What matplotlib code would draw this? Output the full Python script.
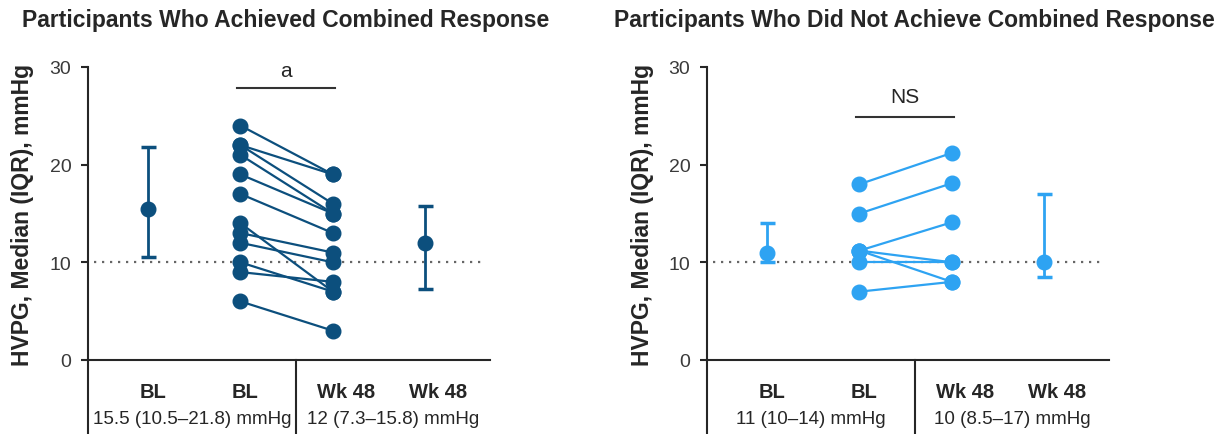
import numpy as np
import matplotlib.pyplot as plt
from matplotlib import transforms

plt.rcParams['font.family'] = ['Liberation Sans', 'DejaVu Sans']

# participants who achieved combined response (paired BL -> Wk 48)
resp_bl = [24, 22, 22, 21, 19, 17, 14, 13, 12, 10, 9, 6]
resp_wk48 = [19, 19, 16, 15, 15, 13, 7, 11, 10, 7, 8, 3]
resp_median = [15.5, 12]
resp_q1 = [10.5, 7.3]
resp_q3 = [21.8, 15.8]

# participants who did not achieve combined response
non_bl = [18, 15, 11.2, 11.2, 11.2, 10, 7]
non_wk48 = [21.2, 18.1, 14.1, 10, 8, 10, 8]
non_median = [11, 10]
non_q1 = [10, 8.5]
non_q3 = [14, 17]

categories = ['BL', 'BL', 'Wk 48', 'Wk 48']
titles = ['Participants Who Achieved Combined Response',
          'Participants Who Did Not Achieve Combined Response']
ylabel = 'HVPG, Median (IQR), mmHg'

W, H = 1228, 435
fig = plt.figure(figsize=(W / 100, H / 100), dpi=100)

xlim = (-0.65, 3.7)
divider = 1.6
ref_level = 10
text_col = '#262626'


def draw_panel(left_px, title, title_x, bl, wk, med, q1, q3, color, sig, sig_y, sig_text_y):
    ax = fig.add_axes([left_px / W, 74 / H, 402 / W, 293 / H])
    ax.set_xlim(*xlim)
    ax.set_ylim(0, 30)
    for s in ['top', 'right']:
        ax.spines[s].set_visible(False)
    for s in ['left', 'bottom']:
        ax.spines[s].set_linewidth(1.5)
        ax.spines[s].set_color(text_col)
    ax.set_xticks([])
    ax.set_yticks([0, 10, 20, 30])
    ax.tick_params(axis='y', length=5, width=1.5, color=text_col, pad=7,
                   labelsize=14, labelcolor='#3a3a3a')

    # dotted reference line
    ax.plot([-0.58, 3.65], [ref_level, ref_level], color='#666666', lw=1.6,
            ls=(0, (1, 2.6)), zorder=1)

    # paired lines
    for b, w in zip(bl, wk):
        ax.plot([1, 2], [b, w], color=color, lw=1.6, marker='o', ms=10.5,
                zorder=3, clip_on=False)

    # median (IQR) summaries
    for x, m, lo, hi in zip([0, 3], med, q1, q3):
        ax.errorbar(x, m, yerr=[[m - lo], [hi - m]], fmt='o', color=color,
                    ms=10.5, elinewidth=2, capsize=5.4, capthick=2.5, zorder=3)

    # significance bar
    ax.plot([0.96, 2.02], [sig_y, sig_y], color='#333333', lw=1.5, clip_on=False)
    ax.text(1.49, sig_text_y, sig, ha='center', va='center', fontsize=15,
            color=text_col)

    # lines and labels below axis
    trans = transforms.blended_transform_factory(ax.transData, ax.transAxes)
    for x in [xlim[0], divider]:
        ax.plot([x, x], [0, -0.26], color=text_col, lw=1.5, transform=trans,
                clip_on=False)
    label_x = [0.05, 1.05, 2.14, 3.14]
    for x, c in zip(label_x, categories):
        ax.text(x, -0.106, c, transform=trans, ha='center', va='center',
                fontsize=14.5, fontweight='bold', color=text_col)
    row = [f'{m:g} ({lo:g}\u2013{hi:g}) mmHg' for m, lo, hi in zip(med, q1, q3)]
    ax.text((xlim[0] + divider) / 2, -0.201, row[0], transform=trans,
            ha='center', va='center', fontsize=13.5, color=text_col)
    ax.text((divider + xlim[1]) / 2, -0.201, row[1], transform=trans,
            ha='center', va='center', fontsize=13.5, color=text_col)

    fig.text(title_x / W, 1 - 20 / H, title, ha='center', va='center',
             fontsize=16.5, fontweight='bold', color=text_col)
    fig.text((left_px - 65) / W, 1 - 215 / H, ylabel, rotation=90,
             ha='center', va='center', fontsize=16.5, fontweight='bold',
             color=text_col)
    return ax


draw_panel(88, titles[0], 286, resp_bl, resp_wk48, resp_median, resp_q1,
           resp_q3, '#0c4f7d', 'a', 27.9, 29.6)
draw_panel(707, titles[1], 914, non_bl, non_wk48, non_median, non_q1,
           non_q3, '#2ea3f2', 'NS', 24.85, 27.0)

fig.savefig('out.png', dpi=100)
